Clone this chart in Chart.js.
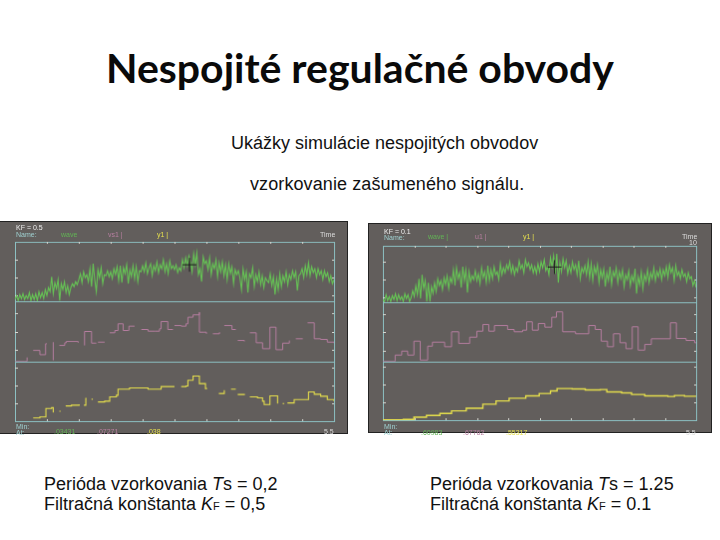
<!DOCTYPE html>
<html lang="sk">
<head>
<meta charset="utf-8">
<title>Nespojité regulačné obvody</title>
<script src="https://cdn.jsdelivr.net/npm/chart.js@4"></script>
<style>
html,body{margin:0;padding:0;background:#fff;width:720px;height:540px;overflow:hidden}
body{position:relative;font-family:"Liberation Sans",Arial,sans-serif;color:#111}
.t{position:absolute;white-space:nowrap;line-height:1}
#title{left:106px;top:47px;font-family:Lato,sans-serif;font-weight:700;font-size:41px;transform-origin:0 0;color:#0a0a0a}
.sub{font-size:18px}
.cap{font-size:18px}
.cap small{font-size:11px}
canvas{position:absolute;filter:blur(.45px)}
#left{left:0;top:221px;border-top:1px solid #222;border-bottom:1px solid #222;border-right:1px solid #222}
#right{left:368px;top:223px;border:1px solid #222}
.p{font-size:7px;filter:blur(.35px)}
</style>
</head>
<body>
<div class="t" id="title">Nespojité regulačné obvody</div>
<div class="t sub" style="left:231px;top:134px">Ukážky simulácie nespojitých obvodov</div>
<div class="t sub" style="left:250px;top:175px;letter-spacing:.1px">vzorkovanie zašumeného signálu.</div>
<canvas id="left" width="348" height="213"></canvas>
<canvas id="right" width="344" height="210"></canvas>
<div class="t cap" style="left:44px;top:475px">Perióda vzorkovania <i>T</i>s = 0,2</div>
<div class="t cap" style="left:44px;top:495px">Filtračná konštanta <i>K</i><small>F</small> = 0,5</div>
<div class="t cap" style="left:430px;top:475px">Perióda vzorkovania <i>T</i>s = 1.25</div>
<div class="t cap" style="left:430px;top:495px">Filtračná konštanta <i>K</i><small>F</small> = 0.1</div>

<div class="t p" style="left:16px;top:224px;color:#eee">KF = 0.5</div>
<div class="t p" style="left:16px;top:231px;color:#9fd0d0">Name:</div>
<div class="t p" style="left:61px;top:231px;color:#62b455">wave</div>
<div class="t p" style="left:108px;top:231px;color:#b77fa0">vs1 |</div>
<div class="t p" style="left:157px;top:231px;color:#e6e04e">y1 |</div>
<div class="t p" style="left:320px;top:231px;color:#ddd">Time</div>
<div class="t p" style="left:16px;top:423px;color:#9fd0d0">Min:</div>
<div class="t p" style="left:16px;top:429px;color:#9fd0d0">At:</div>
<div class="t p" style="left:54px;top:428px;color:#62b455">.03431</div>
<div class="t p" style="left:97px;top:428px;color:#b77fa0">.07271</div>
<div class="t p" style="left:147px;top:428px;color:#e6e04e">.038</div>
<div class="t p" style="left:324px;top:428px;color:#ddd">5.5</div>

<div class="t p" style="left:384px;top:228px;color:#eee">KF = 0.1</div>
<div class="t p" style="left:384px;top:234px;color:#9fd0d0">Name:</div>
<div class="t p" style="left:428px;top:233px;color:#62b455">wave |</div>
<div class="t p" style="left:475px;top:233px;color:#b77fa0">u1 |</div>
<div class="t p" style="left:523px;top:233px;color:#e6e04e">y1 |</div>
<div class="t p" style="left:682px;top:233px;color:#ddd">Time</div>
<div class="t p" style="left:689px;top:239px;color:#ddd">10</div>
<div class="t p" style="left:384px;top:423px;color:#9fd0d0">Min:</div>
<div class="t p" style="left:384px;top:429px;color:#9fd0d0">At:</div>
<div class="t p" style="left:421px;top:429px;color:#62b455">.60983</div>
<div class="t p" style="left:463px;top:429px;color:#b77fa0">.67762</div>
<div class="t p" style="left:506px;top:429px;color:#e6e04e">.55317</div>
<div class="t p" style="left:686px;top:429px;color:#ddd">5.5</div>

<script>
// ---- values (time 0..10, strip units 0..60) ----
const greenLeft = [
2,6,1,7,3,8,2,6,3,9,1,7,2,8,1,10,4,9,3,12,
6,14,10,25,8,19,13,22,1,18,12,20,9,16,7,14,18,15,20,17,
22,28,19,30,24,27,20,33,15,38,22,10,32,24,34,18,27,26,31,25,
30,23,33,27,35,21,36,19,34,28,37,18,32,25,36,23,35,20,31,30,
36,30,39,28,34,38,26,36,31,40,29,37,33,42,30,38,28,41,33,36,
32,37,29,34,31,42,34,44,36,46,40,30,48,37,49,27,33,20,45,38,
41,32,44,27,38,33,42,25,39,30,40,26,37,22,38,28,35,18,32,27,
31,24,12,33,22,30,9,28,24,34,15,27,20,30,17,26,14,24,21,19,
28,16,25,7,23,12,28,15,26,20,30,17,27,22,31,24,30,11,26,28,
33,24,36,27,39,26,35,29,33,24,33,27,31,22,31,25,29,20,26,18,22];

const greenRight = [
3,1,8,2,6,1,7,3,9,2,8,3,6,1,9,4,8,1,5,12,
6,17,8,24,4,28,14,22,1,20,1,16,9,20,11,24,17,22,13,25,
18,27,14,25,20,33,17,35,24,30,15,36,22,33,10,31,21,27,23,32,
22,29,19,35,25,31,20,37,22,33,24,36,28,31,23,39,28,35,30,38,
33,41,30,37,28,35,31,42,34,38,30,43,36,40,33,38,30,36,29,39,
31,41,35,43,32,36,28,45,36,47,29,49,20,40,31,44,35,42,29,37,
30,41,33,38,28,42,24,35,30,37,28,41,25,39,22,36,29,38,20,33,
25,34,16,30,22,36,18,31,26,35,20,31,24,33,16,28,23,32,17,27,
21,34,9,26,18,31,14,28,22,33,20,30,24,35,22,31,26,34,23,33,
27,36,25,38,30,35,22,37,27,31,24,33,26,29,21,30,24,26,17,22,15];

const greenTimes = [
0,.05,.1,.15,.2,.25,.3,.35,.4,.45,.5,.55,.6,.65,.7,.75,.8,.85,.9,.95,
1,1.05,1.1,1.15,1.2,1.25,1.3,1.35,1.4,1.45,1.5,1.55,1.6,1.65,1.7,1.75,1.8,1.85,1.9,1.95,
2,2.05,2.1,2.15,2.2,2.25,2.3,2.35,2.4,2.45,2.5,2.55,2.6,2.65,2.7,2.75,2.8,2.85,2.9,2.95,
3,3.05,3.1,3.15,3.2,3.25,3.3,3.35,3.4,3.45,3.5,3.55,3.6,3.65,3.7,3.75,3.8,3.85,3.9,3.95,
4,4.05,4.1,4.15,4.2,4.25,4.3,4.35,4.4,4.45,4.5,4.55,4.6,4.65,4.7,4.75,4.8,4.85,4.9,4.95,
5,5.05,5.1,5.15,5.2,5.25,5.3,5.35,5.4,5.45,5.5,5.55,5.6,5.65,5.7,5.75,5.8,5.85,5.9,5.95,
6,6.05,6.1,6.15,6.2,6.25,6.3,6.35,6.4,6.45,6.5,6.55,6.6,6.65,6.7,6.75,6.8,6.85,6.9,6.95,
7,7.05,7.1,7.15,7.2,7.25,7.3,7.35,7.4,7.45,7.5,7.55,7.6,7.65,7.7,7.75,7.8,7.85,7.9,7.95,
8,8.05,8.1,8.15,8.2,8.25,8.3,8.35,8.4,8.45,8.5,8.55,8.6,8.65,8.7,8.75,8.8,8.85,8.9,8.95,
9,9.05,9.1,9.15,9.2,9.25,9.3,9.35,9.4,9.45,9.5,9.55,9.6,9.65,9.7,9.75,9.8,9.85,9.9,9.95,10];

const pinkLeftT = [0,.31,.38,.45,
.57,.78,.96,1.0,1.05,
1.20,1.20,1.28,
1.39,1.56,1.61,1.98,2.04,
2.18,2.18,2.40,2.40,2.55,2.58,
2.60,2.81,2.86,
2.97,3.13,3.23,3.39,3.39,3.54,3.57,3.75,3.82,
3.96,4.17,4.38,4.53,4.58,4.79,4.79,4.95,4.98,
5.0,5.21,5.36,5.42,5.58,5.78,5.78,5.91,6.0,6.04,
6.2,6.41,6.48,
6.56,6.80,6.80,6.92,6.95,
6.98,7.19,7.25,
7.36,7.56,7.56,7.75,7.76,7.99,7.99,8.18,8.18,8.39,8.39,8.6,8.7,
8.8,9.02,9.1,
9.17,9.38,9.38,9.58,9.79,10];
const pinkLeftV = [0,0,4,null,
11,6.7,17.7,17.7,null,
19.3,1,null,
16,18.7,20,18.7,null,
16,30,30,18.3,18.3,null,
19.3,19.3,null,
28.7,31,37.7,37.7,31,31,35.3,35.3,null,
32,30.3,30.3,32.7,40,40,32,32,null,
36,35.3,37.7,44.3,46.7,49.3,29.3,29.3,27.7,null,
27.7,29.3,null,
36,36,32,32,null,
21,20,null,
28.7,28.7,18.7,18.7,12.7,12.7,34.3,34.3,11.7,11.7,18.3,21,null,
22.7,22.7,null,
38.7,38.7,22.7,22,19.3,18.3];

const yellowLeftT = [.57,.78,.97,.97,1.15,1.20,1.25,
1.39,1.43,1.48,
1.59,1.77,2.01,2.06,
2.16,2.22,2.24,2.3,
2.40,2.44,2.5,
2.60,2.81,2.97,3.18,3.23,3.54,3.59,3.96,4.17,4.53,4.58,5.0,5.05,
5.21,5.36,5.42,5.58,5.73,5.78,5.97,5.97,6.02,6.1,
6.39,6.56,6.56,6.6,
6.77,6.92,6.95,
6.98,7.19,7.25,
7.36,7.6,7.76,7.81,7.99,7.99,8.18,8.23,8.28,
8.39,8.44,8.5,
8.54,8.75,9.17,9.2,9.38,9.58,9.79,10];
const yellowLeftV = [3.3,4.3,4.3,12.7,13.7,8.7,null,
10,10,null,
15.3,16,17,null,
16,22.7,22.7,null,
22,22,null,
19.3,20,24.3,26,32,32,33.3,33.3,32,32,34.7,34.7,null,
34.7,35.3,41,45.3,45.3,37.7,36,32.7,32.7,null,
27.7,27.7,31,null,
32,32,null,
26.7,26,null,
24.3,23.3,20,16.7,16.7,25.3,25.3,17.7,null,
17.7,17.7,null,
18.3,21.7,21.7,29.3,27,25,21.7,20];

const pinkRightT = [0,.39,.60,.79,.99,1.19,1.43,1.58,1.97,2.19,2.42,2.77,3.0,3.19,3.38,3.56,3.98,4.19,4.46,4.59,4.77,4.96,5.17,5.39,5.54,5.74,6.15,6.57,6.78,6.97,7.17,7.36,7.57,7.76,7.96,8.15,8.36,8.57,9.18,9.37,9.68,9.95,10];
const pinkRightV = [0,6.3,10.3,6.3,20.3,1.3,15.3,19.3,14.7,29.7,18,24.3,30.3,37,30.3,36,32,29.7,31.3,39.7,31.3,38,34.3,44.3,49.7,29.7,27.7,36,32,20.3,14.7,27.7,18.7,12.7,34.7,11.3,17,22.7,38.7,23,21,18.7,18.7];

const yellowRightT = [0,.65,.99,1.39,1.82,2.19,2.66,3.19,3.61,4.03,4.56,4.99,5.35,5.56,6.04,6.46,6.94,7.15,7.62,7.94,8.36,9.1,9.31,9.63,10];
const yellowRightV = [.3,.7,3,4.7,6.7,9.3,12,16,19.3,22,24.3,26.7,29.3,31.7,31.3,30.3,30.7,28.3,27.3,25.7,24.3,23.7,24.7,24,23.7];

const crossLeft = [5.47, 37];
const crossRight = [5.48, 35.7];

const timeTicks = [1,2,3,4,5,6,7,8,9];
const tickLeft = {g:[6,24,42], p:[12,30,48], y:[18,36,54]};
const tickRight = {g:[5,23,41], p:[11,29,47], y:[18,36,54]};

// ---- styles ----
const C = {bg:'#625e5c', green:'#66c455', pink:'#b67ea0', yellow:'#e6df4c', frame:'#8cc0c2', tick:'#d8d8d2'};

const pts = (t, v) => t.map((x, i) => ({x, y: v[i]}));

const framePlugin = {
  id: 'frame',
  beforeDraw(c) {
    const g = c.ctx;
    g.save();
    g.fillStyle = C.bg;
    g.fillRect(0, 0, c.width, c.height);
    g.restore();
  },
  beforeDatasetsDraw(c, _, o) {
    const g = c.ctx, a = c.chartArea, S = c.scales;
    g.save();
    g.strokeStyle = C.frame; g.lineWidth = 1;
    g.strokeRect(a.left + .5, a.top + .5, a.right - a.left, a.bottom - a.top);
    [S.yg, S.yp].forEach(s => {
      const y = Math.round(s.getPixelForValue(0)) + .5;
      g.beginPath(); g.moveTo(a.left, y); g.lineTo(a.right, y); g.stroke();
    });
    g.strokeStyle = C.tick;
    timeTicks.forEach(t => {
      const x = Math.round(S.x.getPixelForValue(t)) + .5;
      g.beginPath(); g.moveTo(x, a.top); g.lineTo(x, a.top + 2);
      g.moveTo(x, a.bottom); g.lineTo(x, a.bottom - 2); g.stroke();
    });
    [['yg', o.ticks.g], ['yp', o.ticks.p], ['yy', o.ticks.y]].forEach(([id, list]) => {
      list.forEach(v => {
        const y = Math.round(S[id].getPixelForValue(v)) + .5;
        g.beginPath(); g.moveTo(a.left, y); g.lineTo(a.left + 3, y);
        g.moveTo(a.right, y); g.lineTo(a.right - 2, y); g.stroke();
      });
    });
    g.restore();
  }
};

function yAxis(max, weight) {
  return {
    type: 'linear', position: 'left', stack: 'strips', stackWeight: weight, min: 0, max,
    ticks: {display: false}, grid: {display: false}, border: {display: false},
    afterFit(s) { s.width = 0; }
  };
}

function panel(id, pad, heights, green, pink, yellow, cross, ticks, yellowWidth) {
  new Chart(document.getElementById(id), {
    type: 'line',
    data: {datasets: [
      {label: 'wave', data: pts(greenTimes, green), yAxisID: 'yg', borderColor: C.green, borderWidth: 1.1, pointRadius: 0, tension: 0},
      {label: 'u1', data: pts(pink[0], pink[1]), yAxisID: 'yp', borderColor: C.pink, borderWidth: 1, pointRadius: 0, stepped: true},
      {label: 'y1', data: pts(yellow[0], yellow[1]), yAxisID: 'yy', borderColor: C.yellow, borderWidth: yellowWidth, pointRadius: 0, stepped: true},
      {label: 'cursor', order: -1, data: [{x: cross[0], y: cross[1]}], yAxisID: 'yg', showLine: false, pointStyle: 'cross', pointRadius: 7, borderColor: '#1a1a1a', borderWidth: 1}
    ]},
    options: {
      responsive: false, animation: false, devicePixelRatio: 1,
      layout: {padding: pad},
      plugins: {legend: {display: false}, title: {display: false}, tooltip: {enabled: false}, frame: {ticks}},
      scales: {
        x: {type: 'linear', min: 0, max: 10, display: false},
        yy: yAxis(heights[2], heights[2]),
        yp: yAxis(heights[1], heights[1]),
        yg: yAxis(heights[0], heights[0])
      }
    },
    plugins: [framePlugin]
  });
}

panel('left', {left: 15, right: 13, top: 20, bottom: 12}, [60, 60, 60], greenLeft,
  [pinkLeftT, pinkLeftV], [yellowLeftT, yellowLeftV], crossLeft, tickLeft, 1.1);
panel('right', {left: 14, right: 15, top: 22, bottom: 12}, [57, 59, 59], greenRight,
  [pinkRightT, pinkRightV], [yellowRightT, yellowRightV], crossRight, tickRight, 1.4);

// fit the title to the reference width
const tt = document.getElementById('title');
tt.style.transform = 'scaleX(' + (508 / tt.getBoundingClientRect().width) + ')';
</script>
</body>
</html>
